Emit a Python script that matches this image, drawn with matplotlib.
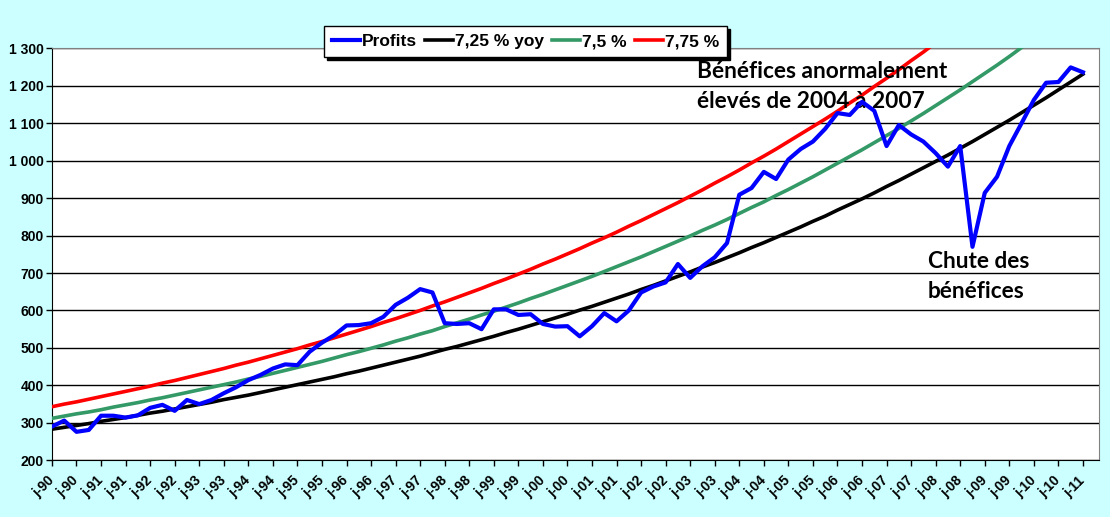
import numpy as np
import matplotlib.pyplot as plt

# quarterly data, 1990 Q1 -> 2011 Q1
profits = [290, 306, 276, 281, 319, 319, 314, 320, 340, 348, 332, 361, 350, 361, 379, 395,
           414, 428, 445, 456, 454, 490, 514, 534, 560, 561, 566, 583, 615, 634, 657, 648,
           566, 564, 566, 550, 603, 603, 588, 590, 564, 557, 558, 531, 558, 593, 571, 600,
           648, 664, 675, 724, 687, 718, 742, 780, 909, 927, 970, 951, 1003, 1031, 1051, 1085,
           1127, 1122, 1157, 1133, 1039, 1095, 1070, 1051, 1020, 984, 1039, 770, 914, 957, 1039, 1100,
           1162, 1208, 1210, 1249, 1236]

trend_725 = [283, 288, 293, 298, 304, 309, 314, 320, 326, 331, 337, 343, 349, 355, 362, 368,
             374, 381, 388, 395, 402, 409, 416, 423, 431, 438, 446, 454, 462, 470, 478, 487,
             496, 504, 513, 522, 531, 541, 550, 560, 570, 580, 590, 601, 611, 622, 633, 644,
             656, 667, 679, 691, 703, 716, 728, 741, 754, 768, 781, 795, 809, 823, 838, 852,
             868, 883, 898, 914, 931, 947, 964, 981, 998, 1015, 1033, 1051, 1070, 1089, 1108, 1128,
             1148, 1168, 1189, 1210, 1231]

trend_75 = [312, 318, 324, 329, 335, 342, 348, 354, 361, 367, 374, 381, 388, 395, 402, 409,
            417, 424, 432, 440, 448, 456, 464, 473, 482, 490, 499, 508, 518, 527, 537, 546,
            557, 567, 577, 588, 598, 609, 620, 632, 643, 655, 667, 679, 691, 704, 717, 730,
            743, 757, 771, 785, 799, 814, 828, 843, 859, 875, 890, 907, 923, 940, 957, 975,
            993, 1011, 1029, 1048, 1067, 1086, 1106, 1126, 1147, 1168, 1189, 1211, 1233, 1255, 1278, 1302]

trend_775 = [343, 350, 356, 363, 370, 377, 384, 391, 398, 406, 413, 421, 429, 437, 445, 454,
             462, 471, 480, 489, 498, 508, 517, 527, 537, 547, 557, 568, 578, 589, 600, 612,
             623, 635, 647, 659, 672, 684, 697, 710, 724, 737, 751, 765, 780, 794, 809, 825,
             840, 856, 872, 888, 905, 922, 940, 957, 975, 994, 1012, 1031, 1051, 1071, 1091, 1111,
             1132, 1154, 1175, 1198, 1220, 1243, 1267, 1290, 1315]

tick_labels = []
for yr in list(range(90, 100)) + list(range(0, 11)):
    tick_labels += ["j-%02d" % yr, "j-%02d" % yr]
tick_labels.append("j-11")

y_ticks = [200, 300, 400, 500, 600, 700, 800, 900, 1000, 1100, 1200, 1300]
y_labels = ["200", "300", "400", "500", "600", "700", "800", "900",
            "1 000", "1 100", "1 200", "1 300"]

bg = "#ccffff"
H = 517
fig = plt.figure(figsize=(11.1, 5.17), dpi=100, facecolor=bg)
ax = fig.add_axes([0.0468, 0.1097, 0.9432, 0.7969])
ax.set_facecolor("white")

ax.plot(np.arange(len(profits)), profits, color="#0000ff", lw=3.0, label="Profits", zorder=5)
ax.plot(np.arange(len(trend_725)), trend_725, color="black", lw=2.6, label="7,25 % yoy", zorder=4)
ax.plot(np.arange(len(trend_75)), trend_75, color="#339966", lw=2.6, label="7,5 %", zorder=3)
ax.plot(np.arange(len(trend_775)), trend_775, color="#ff0000", lw=2.6, label="7,75 %", zorder=3)

ax.set_xlim(0, 85.3)
ax.set_ylim(200, 1300)
ax.set_yticks(y_ticks)
ax.set_yticklabels(y_labels, fontsize=10, fontweight="bold", family="Liberation Sans")
ax.set_xticks(np.arange(0, 85, 2))
ax.set_xticklabels(tick_labels, rotation=45, ha="right", va="center", rotation_mode="anchor",
                   fontsize=10, fontweight="bold", family="Liberation Sans")
ax.tick_params(axis="both", direction="out", length=4, width=1, color="black")
ax.tick_params(axis="x", pad=9)
ax.tick_params(axis="y", pad=2)
ax.grid(axis="y", color="black", lw=1)
ax.set_axisbelow(True)
for s in ["top", "right"]:
    ax.spines[s].set_color("#808080")
for s in ["left", "bottom"]:
    ax.spines[s].set_color("black")

leg = ax.legend(loc="center", bbox_to_anchor=(0.4734, 0.9197), bbox_transform=fig.transFigure,
                ncol=4, fancybox=False, edgecolor="black", framealpha=1,
                shadow={"color": "black", "alpha": 1},
                prop={"family": "Liberation Sans", "weight": "bold", "size": 12.5},
                handlelength=1.6, handletextpad=0.1, columnspacing=0.5,
                borderpad=0.45, borderaxespad=0)
leg.get_frame().set_linewidth(1)

# annotations placed in pixel coordinates (origin bottom-left), baseline of last line
ax.text(697, H - 108, "Bénéfices anormalement\nélevés de 2004 à 2007", transform=None,
        fontsize=16.3, fontweight="bold", family="Lato", va="baseline", linespacing=1.53)
ax.text(928, H - 298, "Chute des\nbénéfices", transform=None,
        fontsize=16.3, fontweight="bold", family="Lato", va="baseline", linespacing=1.53)

fig.savefig("out.png", dpi=100, facecolor=bg)
